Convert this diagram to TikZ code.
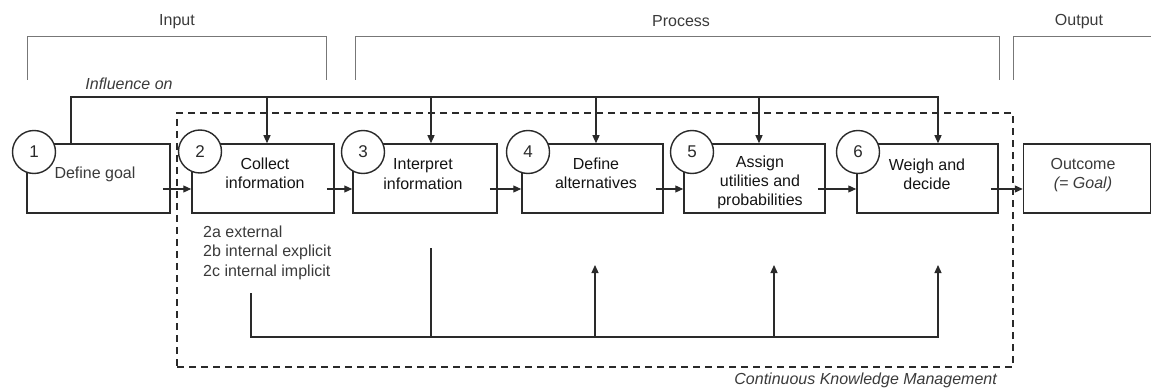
\documentclass[tikz,border=0pt]{standalone}
\usepackage{fontspec}
\setmainfont{Liberation Sans}
\usetikzlibrary{arrows.meta}
\definecolor{ink}{HTML}{2A2A2A}
\definecolor{txt}{HTML}{3A3A3A}
\definecolor{dtxt}{HTML}{141414}
\definecolor{brk}{HTML}{777777}
\begin{document}
\begin{tikzpicture}[x=1pt,y=-1pt,
  stepbox/.style={draw=ink,line width=1.5pt,inner sep=0pt},
  numcirc/.style={circle,draw=ink,line width=1.4pt,fill=white,minimum size=43pt,inner sep=0pt,font=\fontsize{17}{17}\selectfont,text=ink},
  boxtxt/.style={align=center,font=\fontsize{16}{19.3}\selectfont,text=txt,inner sep=0pt},
  darktxt/.style={boxtxt,text=dtxt},
  plaintxt/.style={font=\fontsize{16}{19.5}\selectfont,text=txt,inner sep=0pt},
  conn/.style={draw=ink,line width=1.2pt},
  arr/.style={conn,-{Triangle[length=8pt,width=7pt]}},
  bracketline/.style={draw=brk,line width=0.9pt},
  ckmbox/.style={draw=ink,line width=1.2pt,dash pattern=on 7pt off 5pt,inner sep=0pt}
]
\useasboundingbox (0,0) rectangle (1151,390);

% top brackets
\draw[bracketline] (27,80) -- (27,36) -- (326,36) -- (326,80);
\draw[bracketline] (355,80) -- (355,36) -- (999,36) -- (999,80);
\draw[bracketline] (1013,80) -- (1013,36) -- (1151,36);
\node[plaintxt] (lin) at (177,22) {Input};
\node[plaintxt] (lpr) at (681,21) {Process};
\node[plaintxt] (lout) at (1079,22) {Output};

% continuous knowledge management frame
\node[ckmbox,minimum width=836pt,minimum height=254pt] (ckm) at (595,240) {};
\node[plaintxt,font=\fontsize{16}{19.5}\selectfont\itshape,anchor=east] (ckml) at (997,380) {Continuous Knowledge Management};

% boxes
\node[stepbox,minimum width=143pt,minimum height=69pt] (b1) at (98.5,178.5) {};
\node[stepbox,minimum width=142pt,minimum height=69pt] (b2) at (263,178.5) {};
\node[stepbox,minimum width=144pt,minimum height=69pt] (b3) at (425,178.5) {};
\node[stepbox,minimum width=141pt,minimum height=69pt] (b4) at (592.5,178.5) {};
\node[stepbox,minimum width=141pt,minimum height=69pt] (b5) at (754.5,178.5) {};
\node[stepbox,minimum width=141pt,minimum height=69pt] (b6) at (927.5,178.5) {};
\node[stepbox,minimum width=127pt,minimum height=69pt] (b7) at (1087,178.5) {};

% box texts
\node[boxtxt] (t1) at (95,174) {Define goal};
\node[darktxt] (t2) at (265,173.5) {Collect\\information};
\node[darktxt] (t3) at (423,174) {Interpret\\information};
\node[darktxt] (t4) at (596,173) {Define\\alternatives};
\node[darktxt] (t5) at (760,182.5) {Assign\\utilities and\\probabilities};
\node[darktxt] (t6) at (927,174) {Weigh and\\decide};
\node[boxtxt] (t7) at (1083,175) {Outcome\\\textit{(= Goal)}};

% number circles
\node[numcirc] (c1) at (34,152) {1};
\node[numcirc] (c2) at (200,151.5) {2};
\node[numcirc] (c3) at (363,152) {3};
\node[numcirc] (c4) at (528,152) {4};
\node[numcirc] (c5) at (692,152) {5};
\node[numcirc] (c6) at (858,152) {6};

% flow arrows between boxes
\draw[arr] ([xshift=-8pt,yshift=-10.5pt]b1.east) -- ([yshift=-10.5pt]b2.west);
\draw[arr] ([xshift=-8pt,yshift=-10.5pt]b2.east) -- ([yshift=-10.5pt]b3.west);
\draw[arr] ([xshift=-8pt,yshift=-10.5pt]b3.east) -- ([yshift=-10.5pt]b4.west);
\draw[arr] ([xshift=-8pt,yshift=-10.5pt]b4.east) -- ([yshift=-10.5pt]b5.west);
\draw[arr] ([xshift=-8pt,yshift=-10.5pt]b5.east) -- ([yshift=-10.5pt]b6.west);
\draw[arr] ([xshift=-8pt,yshift=-10.5pt]b6.east) -- ([yshift=-10.5pt]b7.west);

% influence on
\node[plaintxt,font=\fontsize{16}{19.5}\selectfont\itshape] (infl) at (129,84) {Influence on};
\coordinate (iL) at (71,97);
\coordinate (i2) at (267,97);
\coordinate (i3) at (431,97);
\coordinate (i4) at (596,97);
\coordinate (i5) at (759,97);
\coordinate (i6) at (938,97);
\draw[arr] (iL |- b1.north) -- (iL) -- (i6) -- (i6 |- b6.north);
\draw[arr] (i2) -- (i2 |- b2.north);
\draw[arr] (i3) -- (i3 |- b3.north);
\draw[arr] (i4) -- (i4 |- b4.north);
\draw[arr] (i5) -- (i5 |- b5.north);

% sub-items of step 2
\node[plaintxt,align=left,anchor=west] (sub2) at (203,252.5) {2a external\\2b internal explicit\\2c internal implicit};

% knowledge feedback
\coordinate (fL) at (251,293);
\coordinate (f3) at (431,248);
\coordinate (fb) at (251,337);
\coordinate (f4) at (595,265);
\coordinate (f5) at (774,265);
\coordinate (f6) at (938,265);
\draw[arr] (fL) -- (fb) -- (f6 |- fb) -- (f6);
\draw[conn] (f3) -- (f3 |- fb);
\draw[arr] (f4 |- fb) -- (f4);
\draw[arr] (f5 |- fb) -- (f5);
\end{tikzpicture}
\end{document}
